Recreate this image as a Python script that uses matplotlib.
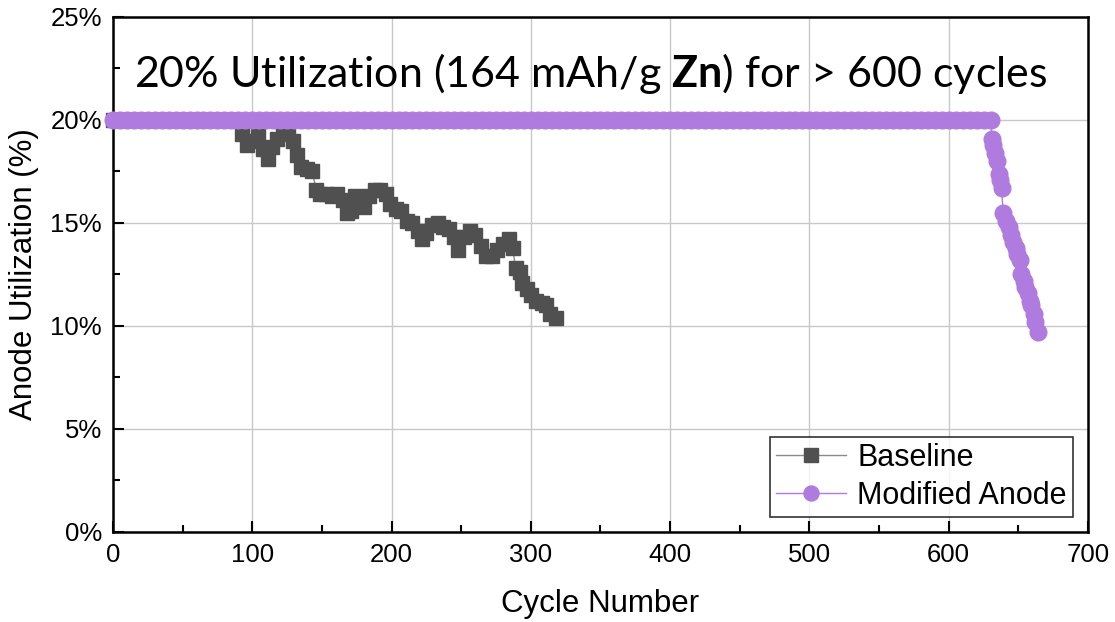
import matplotlib
matplotlib.use("Agg")
import matplotlib.pyplot as plt
from matplotlib.ticker import MultipleLocator, FuncFormatter

# ---------------- data ----------------
baseline_cycles = [0, 5, 10, 15, 20, 25, 30, 35, 40, 45, 50, 55, 60, 65, 70, 75, 80, 85, 90,
                   93, 96, 100, 104, 108, 111, 114, 118, 122, 126, 129, 132, 135, 139, 143,
                   146, 149, 153, 157, 161, 165, 168, 171, 174, 177, 180, 184, 188, 192, 196,
                   199, 203, 207, 211, 215, 219, 222, 225, 229, 233, 237, 241, 245, 248, 252,
                   256, 260, 264, 268, 272, 276, 280, 284, 287, 289, 292, 294, 297, 300, 304,
                   308, 311, 314, 318]
baseline_util = [20.0, 20.0, 20.0, 20.0, 20.0, 20.0, 20.0, 20.0, 20.0, 20.0, 20.0, 20.0, 20.0,
                 20.0, 20.0, 20.0, 20.0, 20.0, 20.0,
                 19.3, 18.8, 19.0, 19.2, 18.6, 18.1, 18.7, 19.1, 19.4, 19.3, 19.0, 18.3, 17.7,
                 17.6, 17.5, 16.6, 16.4, 16.4, 16.3, 16.4, 16.1, 15.5, 15.6, 16.3, 16.0, 15.8,
                 16.3, 16.6, 16.6, 16.4, 15.9, 15.7, 15.6, 15.1, 15.0, 14.6, 14.2, 14.5, 14.9,
                 15.0, 14.8, 14.7, 14.3, 13.7, 14.3, 14.6, 14.4, 13.9, 13.4, 13.4, 13.7, 14.0,
                 14.2, 13.8, 12.8, 12.6, 12.1, 11.8, 11.5, 11.2, 11.1, 11.0, 10.6, 10.4]

modified_plateau_cycles = list(range(0, 630, 5))
modified_plateau_util = [
    20.0, 20.0, 20.0, 20.0, 20.0, 20.0, 20.0, 20.0, 20.0, 20.0, 20.0, 20.0, 20.0, 20.0,
    20.0, 20.0, 20.0, 20.0, 20.0, 20.0, 20.0, 20.0, 20.0, 20.0, 20.0, 20.0, 20.0, 20.0,
    20.0, 20.0, 20.0, 20.0, 20.0, 20.0, 20.0, 20.0, 20.0, 20.0, 20.0, 20.0, 20.0, 20.0,
    20.0, 20.0, 20.0, 20.0, 20.0, 20.0, 20.0, 20.0, 20.0, 20.0, 20.0, 20.0, 20.0, 20.0,
    20.0, 20.0, 20.0, 20.0, 20.0, 20.0, 20.0, 20.0, 20.0, 20.0, 20.0, 20.0, 20.0, 20.0,
    20.0, 20.0, 20.0, 20.0, 20.0, 20.0, 20.0, 20.0, 20.0, 20.0, 20.0, 20.0, 20.0, 20.0,
    20.0, 20.0, 20.0, 20.0, 20.0, 20.0, 20.0, 20.0, 20.0, 20.0, 20.0, 20.0, 20.0, 20.0,
    20.0, 20.0, 20.0, 20.0, 20.0, 20.0, 20.0, 20.0, 20.0, 20.0, 20.0, 20.0, 20.0, 20.0,
    20.0, 20.0, 20.0, 20.0, 20.0, 20.0, 20.0, 20.0, 20.0, 20.0, 20.0, 20.0, 20.0, 20.0]
modified_tail_cycles = [630, 631, 632, 633, 635, 636, 637, 638, 639, 641, 643, 645, 646, 648,
                        649, 651, 652, 654, 655, 657, 658, 659, 661, 662, 664]
modified_tail_util = [20.0, 19.1, 18.8, 18.4, 18.0, 17.4, 17.1, 16.7, 15.5, 15.1, 14.8, 14.4,
                      14.1, 13.8, 13.5, 13.2, 12.5, 12.2, 11.9, 11.6, 11.2, 11.0, 10.6, 10.2, 9.7]
modified_cycles = modified_plateau_cycles + modified_tail_cycles
modified_util = modified_plateau_util + modified_tail_util

x_ticks = [0, 100, 200, 300, 400, 500, 600, 700]
y_ticks = [0, 5, 10, 15, 20, 25]
series_labels = ["Baseline", "Modified Anode"]
x_label = "Cycle Number"
y_label = "Anode Utilization (%)"
title_text = r"20% Utilization (164 mAh/g $\mathbf{Zn}$) for > 600 cycles"

# ---------------- style ----------------
plt.rcParams["font.family"] = ["Liberation Sans", "DejaVu Sans"]
plt.rcParams["mathtext.fontset"] = "custom"
plt.rcParams["mathtext.rm"] = "Lato"
plt.rcParams["mathtext.bf"] = "Lato:bold"

base_marker = "#505050"
base_line = "#8a8a8a"
mod_color = "#b07bdf"

fig = plt.figure(figsize=(11.15, 6.22), dpi=100)
ax = fig.add_axes([0.1013, 0.1447, 0.8745, 0.828])

ax.plot(baseline_cycles, baseline_util, color=base_line, lw=1.0, marker="s", ms=10.5,
        mfc=base_marker, mec=base_marker, label=series_labels[0], zorder=3, clip_on=False)
ax.plot(modified_cycles, modified_util, color=mod_color, lw=1.0, marker="o", ms=12,
        mfc=mod_color, mec=mod_color, label=series_labels[1], zorder=4, clip_on=False)

ax.set_xlim(0, 700)
ax.set_ylim(0, 25)
ax.set_xticks(x_ticks)
ax.set_yticks(y_ticks)
ax.xaxis.set_minor_locator(MultipleLocator(50))
ax.yaxis.set_minor_locator(MultipleLocator(2.5))
ax.yaxis.set_major_formatter(FuncFormatter(lambda v, p: f"{int(round(v))}%"))
ax.tick_params(which="both", direction="in", top=False, right=False, labelsize=18.5,
               width=1.5, pad=8)
ax.tick_params(which="major", length=8)
ax.tick_params(which="minor", length=5)
ax.grid(True, which="major", color="#c8c8c8", lw=1.0)
ax.set_axisbelow(True)
for s in ax.spines.values():
    s.set_linewidth(1.8)
    s.set_color("black")

ax.set_xlabel(x_label, fontsize=22.5, labelpad=16)
ax.set_ylabel(y_label, fontsize=22.5, labelpad=8)

ax.text(0.022, 0.891, title_text, transform=ax.transAxes, ha="left", va="center",
        fontsize=31, family="Lato", zorder=6)

leg = ax.legend(loc="lower right", fontsize=22, frameon=True, fancybox=False,
                edgecolor="black", borderpad=0.2, handlelength=2.3, handletextpad=0.35,
                labelspacing=0.25, borderaxespad=0.5, markerscale=0.9)
leg.get_frame().set_linewidth(1.2)
leg.set_zorder(7)

fig.savefig("out.png", dpi=100)
